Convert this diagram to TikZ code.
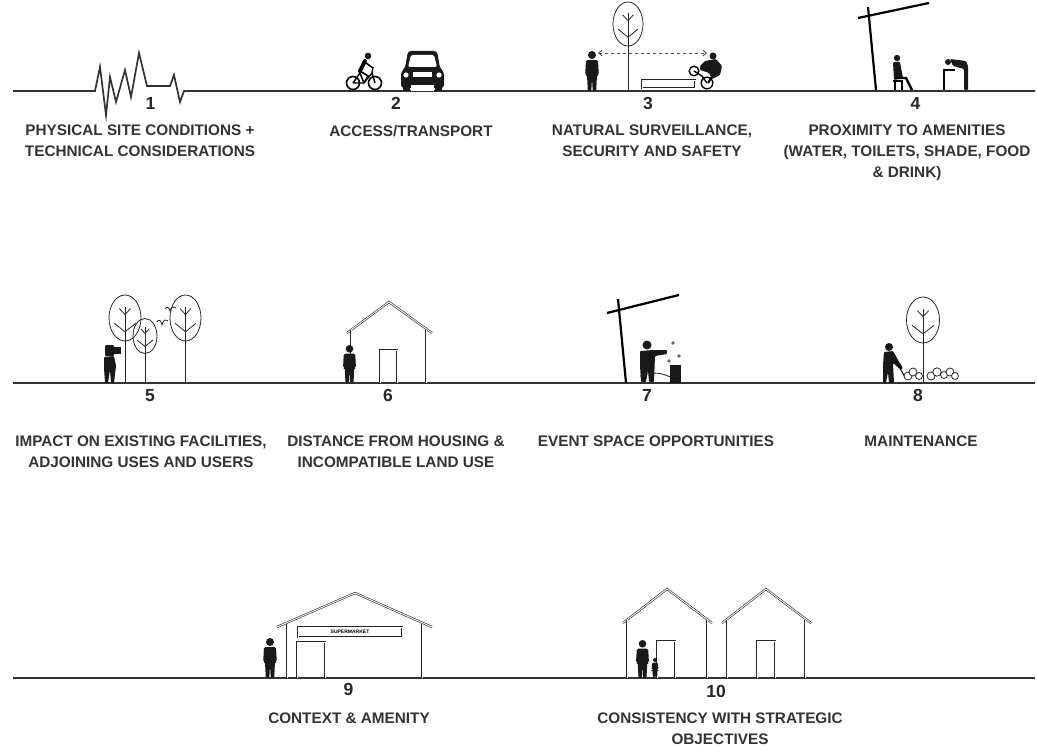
\documentclass[tikz,border=0pt]{standalone}
\usepackage{fontspec}
\setmainfont{Liberation Sans}
\usetikzlibrary{arrows.meta}

\tikzset{
  ground/.style={draw=black!80, line width=1.7pt},
  caption/.style={font=\bfseries\fontsize{15.3}{21}\selectfont, align=center,
                  text=black!80, inner sep=0pt, anchor=north},
  number/.style={font=\bfseries\fontsize{17.5}{17.5}\selectfont, text=black!85,
                 inner sep=0pt, anchor=north},
  outline/.style={draw=black!85, double=white, double distance=0.9pt, line width=0.6pt},
  thin/.style={draw=black!85, line width=0.8pt},
  pole/.style={draw=black, line width=2.2pt},
  figure/.style={fill=black!90},
}

% standing figure: x, ground y, height
\newcommand\standing[3]{%
  \begin{scope}[shift={(#1,#2)}, scale=#3/40]
    \fill[figure] (0,-36) circle (4);
    \fill[figure, rounded corners=1.5] (-6,-31) -- (6,-31) -- (6.8,-16) -- (5,-16)
      -- (4.2,0) -- (0.7,0) -- (0,-13) -- (-0.7,0) -- (-4.2,0) -- (-5,-16)
      -- (-6.8,-16) -- cycle;
  \end{scope}}

% tree: x, crown centre y, crown half width, crown half height, ground y
\newcommand\tree[5]{%
  \draw[thin] (#1,#2) ellipse [x radius=#3, y radius=#4];
  \draw[thin] (#1,{#2-0.5*#4}) -- (#1,#5);
  \draw[thin] ({#1-0.35*#3},{#2-0.41*#4}) -- (#1,{#2-0.15*#4}) -- ({#1+0.35*#3},{#2-0.41*#4});
  \draw[thin] ({#1-0.67*#3},{#2+0.23*#4}) -- (#1,{#2+0.6*#4}) -- ({#1+0.67*#3},{#2+0.23*#4});}

\begin{document}
\begin{tikzpicture}[x=1pt, y=-1pt]
  \useasboundingbox (0,0) rectangle (1037,752);

  % ground lines (first one with the seismic trace)
  \draw[ground] (13,91) -- (95,91) -- (100,67) -- (106,115) -- (110,77) -- (116,102)
    -- (125,70) -- (131,97) -- (139,53) -- (147,86) -- (170,86) -- (174,75)
    -- (180,102) -- (184,91) -- (1035,91);
  \draw[ground] (13,383) -- (1035,383);
  \draw[ground] (13,678) -- (1035,678);

  % 2: bike and car
  \draw[black, line width=1.6pt] (353,83) circle (6.5) (375,83) circle (6.5);
  \draw[black, line width=1.4pt] (353,83) -- (360,73) -- (364,83) -- (372,73) -- (375,83)
    (353,83) -- (364,83) (372,73) -- (373,67);
  \fill[figure] (368,56) circle (3.3);
  \draw[black, line width=4pt, line cap=round] (365,61) -- (360,71);
  \draw[black, line width=1.6pt] (366,63) -- (373,68) (360,71) -- (368,76) -- (364,83);
  \fill[figure, rounded corners=3] (401,88) -- (401,72) -- (405,68) -- (408,51)
    -- (437,51) -- (440,68) -- (444,72) -- (444,88) -- cycle;
  \fill[white, rounded corners=1.5] (411,55) -- (434,55) -- (437,67) -- (408,67) -- cycle;
  \fill[white] (406,75) circle (2.6) (439,75) circle (2.6);
  \fill[white] (413,72) rectangle (432,77);
  \fill[white] (411,85) rectangle (434,91);
  \fill[figure] (403,84) rectangle (410,91) (435,84) rectangle (442,91);

  % 3: surveillance
  \standing{592}{91}{40}
  \tree{628}{24}{15}{22}{91}
  \draw[outline] (642,80) rectangle (695,88);
  \coordinate (watcher) at (598,53);
  \coordinate (rider) at (707,53);
  \draw[black!70, line width=0.9pt, dashed,
        {Straight Barb[length=3.5pt,width=6pt]}-{Straight Barb[length=3.5pt,width=6pt]}]
    (watcher) -- (rider);
  \draw[black, line width=1.4pt] (694,71) circle (4.8) (707,83) circle (5.8);
  \draw[black, line width=1.4pt] (694,71) -- (702,76) -- (707,83);
  \fill[figure] (713,56) circle (3.5);
  \fill[figure, rounded corners=1] (705,61) -- (716,59) -- (722,66) -- (720,75)
    -- (712,79) -- (709,73) -- (700,70) -- (700,66) -- cycle;
  \draw[black, line width=2pt] (712,77) -- (708,83);

  % 4: shade, seat, drinking fountain
  \draw[pole] (868,7) -- (876,90);
  \draw[pole] (858,18) -- (929,3);
  \fill[figure] (897,58) circle (3.2);
  \fill[figure, rounded corners=1] (893,62) -- (900,62) -- (903,78) -- (894,80) -- cycle;
  \draw[black, line width=2.4pt] (895,78) -- (906,78) -- (912,90);
  \draw[black, line width=1.2pt] (893,81) -- (903,81) (895,81) -- (895,90) (902,81) -- (902,90);
  \fill[figure] (948,62) circle (3);
  \fill[figure, rounded corners=1] (950,59) -- (966,61) -- (968,66) -- (968,90) -- (964,90)
    -- (964,69) -- (953,66) -- cycle;
  \draw[black, line width=2.2pt] (944,90) -- (944,70) -- (955,70);

  % 5: trees, birds, photographer
  \tree{125}{318}{16}{23}{383}
  \tree{145}{336}{12}{17.5}{383}
  \tree{185.5}{318}{15.5}{23}{383}
  \draw[thin] (165,309) .. controls (167,306) and (169,307) .. (170,311)
    .. controls (171,307) and (173,306) .. (176,308);
  \draw[thin] (157,322) .. controls (159,319) and (161,320) .. (162,325)
    .. controls (163,320) and (165,319) .. (168,321);
  \fill[figure, rounded corners=1] (105,345) rectangle (114,356);
  \fill[figure] (113,347) rectangle (121,354);
  \fill[figure, rounded corners=1] (104,357) -- (114,356) -- (116,366) -- (114,383)
    -- (111,383) -- (110,370) -- (108,383) -- (105,383) -- (104,368) -- cycle;

  % 6: house
  \draw[outline] (347,333) -- (389,302) -- (432,333);
  \draw[outline] (351,330) -- (351,383) (426,330) -- (426,383);
  \draw[outline] (380,383) |- (397,350) -- (397,383);
  \standing{349.5}{383}{38}

  % 7: shelter and event stall
  \draw[pole] (618,299) -- (626,383);
  \draw[pole] (607,313) -- (679,295);
  \fill[figure] (647,345) circle (4.5);
  \fill[figure, rounded corners=1] (640,351) -- (653,350) -- (667,350) -- (667,354)
    -- (655,356) -- (654,382) -- (649,382) -- (648,370) -- (646,382) -- (641,382)
    -- (640,365) -- cycle;
  \fill[figure] (670,365) rectangle (681,383);
  \fill[black!60] (673,343) circle (1.8) (679,356) circle (1.8) (669,361) circle (1.8);
  \draw[thin] (640,376) .. controls (652,372) and (660,372) .. (670,377);

  % 8: tree, gardener, shrubs
  \tree{923}{320}{16.5}{23}{383}
  \fill[figure] (889,347) circle (4);
  \fill[figure, rounded corners=1] (884,352) -- (893,351) -- (898,360) -- (903,368)
    -- (901,370) -- (893,363) -- (894,383) -- (889,383) -- (888,372) -- (886,383)
    -- (883,383) -- (883,365) -- cycle;
  \draw[black, line width=1pt] (896,361) -- (906,379);
  \foreach \cx/\cy/\r in {908/376/4, 913/372/4, 919/376/3.5,
                          931/376/4, 937/372/4.2, 944/375/3.5, 950/372/4, 955/376/3.5}
    \draw[thin, fill=white] (\cx,\cy) circle (\r);

  % 9: supermarket
  \draw[outline] (277,627) -- (355,593) -- (432,627);
  \draw[outline] (287,624) -- (287,678) (422,624) -- (422,678);
  \draw[outline] (298,627) rectangle (402,637);
  \node[font=\bfseries\fontsize{5}{5}\selectfont, inner sep=0pt] (sign) at (350,632) {SUPERMARKET};
  \draw[outline] (297,678) |- (325,642) -- (325,678);
  \standing{270}{678}{40}

  % 10: two houses
  \draw[outline] (623,623) -- (667,589) -- (712,623);
  \draw[outline] (627,620) -- (627,678) (707,620) -- (707,678);
  \draw[outline] (657,678) |- (675,641) -- (675,678);
  \draw[outline] (722,623) -- (766,589) -- (811,623);
  \draw[outline] (727,620) -- (727,678) (805,620) -- (805,678);
  \draw[outline] (757,678) |- (775,641) -- (775,678);
  \standing{642.5}{678}{38}
  \standing{655}{678}{20}

  % numbers
  \node[number] (n1) at (150.5,97) {1};
  \node[number] (n2) at (396,97) {2};
  \node[number] (n3) at (648,97) {3};
  \node[number] (n4) at (915.5,97) {4};
  \node[number] (n5) at (150,389) {5};
  \node[number] (n6) at (388,389) {6};
  \node[number] (n7) at (647,389) {7};
  \node[number] (n8) at (918,389) {8};
  \node[number] (n9) at (348.5,683) {9};
  \node[number] (n10) at (716,685) {10};

  % captions
  \node[caption] (c1) at (140,125) {PHYSICAL SITE CONDITIONS +\\TECHNICAL CONSIDERATIONS};
  \node[caption] (c2) at (411,125) {ACCESS/TRANSPORT};
  \node[caption] (c3) at (652,125) {NATURAL SURVEILLANCE,\\SECURITY AND SAFETY};
  \node[caption] (c4) at (907,125) {PROXIMITY TO AMENITIES\\(WATER, TOILETS, SHADE, FOOD\\\& DRINK)};
  \node[caption] (c5) at (141,436) {IMPACT ON EXISTING FACILITIES,\\ADJOINING USES AND USERS};
  \node[caption] (c6) at (396,436) {DISTANCE FROM HOUSING \&\\INCOMPATIBLE LAND USE};
  \node[caption] (c7) at (656,436) {EVENT SPACE OPPORTUNITIES};
  \node[caption] (c8) at (921,436) {MAINTENANCE};
  \node[caption] (c9) at (349,713) {CONTEXT \& AMENITY};
  \node[caption] (c10) at (720,713) {CONSISTENCY WITH STRATEGIC\\OBJECTIVES};
\end{tikzpicture}
\end{document}
